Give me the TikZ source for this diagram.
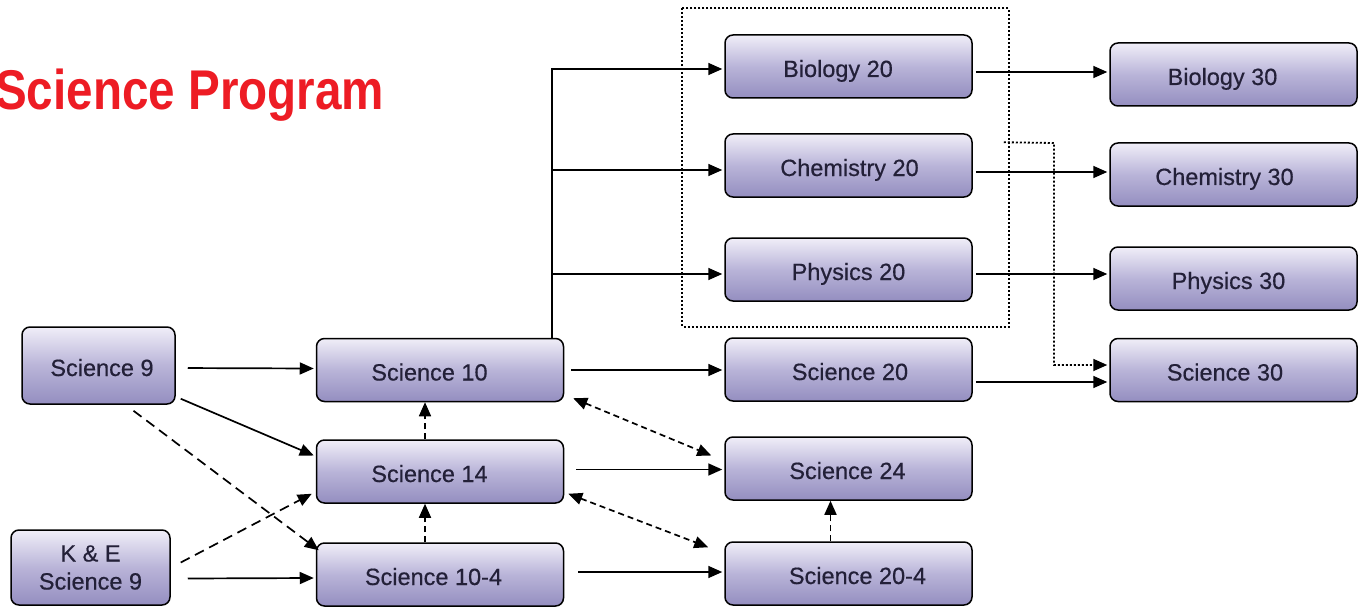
\documentclass[tikz,border=0pt]{standalone}
\usepackage{fontspec}
\setmainfont{Liberation Sans}
\newfontfamily\boxfont{Liberation Sans}[FakeBold=0.5]
\usetikzlibrary{arrows.meta,calc}
\definecolor{titlered}{RGB}{237,28,36}
\definecolor{boxtop}{RGB}{240,238,248}
\definecolor{boxmid}{RGB}{185,180,216}
\definecolor{boxbot}{RGB}{148,142,192}
\definecolor{boxtext}{RGB}{35,32,56}
\tikzset{
  course/.style={draw=black, line width=1.5pt, rounded corners=8pt,
    top color=boxtop, bottom color=boxbot, middle color=boxmid,
    minimum width=247pt, minimum height=63pt, text=boxtext,
    font=\boxfont\fontsize{23.5}{28}\selectfont, inner sep=0pt,
    text height=22pt, text depth=1pt},
  tshift/.style={execute at begin node={\hspace*{#1}}},
  arr/.style={line width=1.7pt, -{Triangle[length=14pt,width=12pt]}},
  longdash/.style={arr, dash pattern=on 10pt off 6pt},
  shortdash/.style={arr, dash pattern=on 6pt off 4pt},
  twodash/.style={shortdash, {Triangle[length=14pt,width=12pt]}-{Triangle[length=14pt,width=12pt]}},
  dotline/.style={line width=1.8pt, dash pattern=on 2pt off 2pt},
  dotarr/.style={dotline, -{Triangle[length=14pt,width=12pt]}}
}
\begin{document}
\begin{tikzpicture}[x=1pt,y=-1pt]
\useasboundingbox (0,0) rectangle (1366,607);
\node[anchor=base west, text=titlered, inner sep=0pt] (title) at (-5,110)
  {\scalebox{0.85}[1]{\fontsize{56}{60}\selectfont\bfseries Science Program}};

\node[course, tshift=7pt, minimum width=153pt, minimum height=77pt] (sc9) at (98.5,365.5) {Science 9};
\node[course, minimum width=159pt, minimum height=75pt, text height=, text depth=, align=center] (ke) at (90.5,567.5) {K \& E\\Science 9};
\node[course, tshift=-21pt] (sc10) at (440,370) {Science 10};
\node[course, tshift=-21pt] (sc14) at (440,471.5) {Science 14};
\node[course, tshift=-13pt] (sc104) at (440,574.5) {Science 10-4};
\node[course, tshift=-21pt] (bio20) at (848.5,66.5) {Biology 20};
\node[course, tshift=2pt] (chem20) at (848.5,165.5) {Chemistry 20};
\node[course] (phys20) at (848.5,269.5) {Physics 20};
\node[course, tshift=3pt] (sc20) at (848.5,369.5) {Science 20};
\node[course, tshift=-2pt] (sc24) at (848.5,468.5) {Science 24};
\node[course, tshift=18pt] (sc204) at (848.5,573.5) {Science 20-4};
\node[course, tshift=-22pt] (bio30) at (1233.5,74.5) {Biology 30};
\node[course, tshift=-18pt] (chem30) at (1233.5,174.5) {Chemistry 30};
\node[course, tshift=-10pt] (phys30) at (1233.5,278.5) {Physics 30};
\node[course, tshift=-17pt] (sc30) at (1233.5,370) {Science 30};

% group box
\draw[dotline] ($(bio20.north west)+(-42,-26)$) rectangle ($(phys20.south east)+(36,25)$);

% left column
\draw[arr, shorten <=12pt] ($(sc9.east)+(0,2.5)$) -- ($(sc10.west)+(-2,-1.5)$);
\draw[arr] ($(sc9.south east)+(5,-6)$) -- ($(sc14.west)+(-2,-16)$);
\draw[longdash] ($(sc9.south)+(35,6)$) -- ($(sc104.north west)+(3,8)$);
\draw[longdash] ($(ke.east)+(10,-5)$) -- ($(sc14.south west)+(-4,-10)$);
\draw[arr] ($(ke.east)+(17,11)$) -- ($(sc104.west)+(-2,3.5)$);
\draw[shortdash] ($(sc14.north)+(-15,0)$) -- ($(sc10.south)+(-15,0)$);
\draw[shortdash] ($(sc104.north)+(-15,0)$) -- ($(sc14.south)+(-15,0)$);

% Science 10 trunk
\coordinate (trunk) at (552,69);
\draw[arr] (sc10.north -| trunk) |- ($(bio20.west)+(-2,2.5)$);
\draw[arr] ($(trunk |- chem20)+(0,4.5)$) -- ($(chem20.west)+(-2,4.5)$);
\draw[arr] ($(trunk |- phys20)+(0,4.5)$) -- ($(phys20.west)+(-2,4.5)$);

% middle
\draw[arr, shorten <=7pt] (sc10.east) -- ($(sc20.west)+(-2,0.5)$);
\draw[twodash] ($(sc10.south east)+(9,-4)$) -- ($(sc24.west)+(-13,-13)$);
\draw[arr] ($(sc14.east)+(12,-2)$) -- ($(sc24.west)+(-2,1)$);
\draw[twodash] ($(sc14.south east)+(4,-10)$) -- ($(sc204.north west)+(-16,6)$);
\draw[arr] ($(sc104.east)+(14,-2.5)$) -- ($(sc204.west)+(-2,-1.5)$);
\draw[shortdash] ($(sc204.north)+(-18,0)$) -- ($(sc24.south)+(-18,0)$);

% right
\draw[arr] ($(bio20.east)+(3,5.5)$) -- ($(bio30.west)+(-2,-2.5)$);
\draw[arr] ($(chem20.east)+(3,6.5)$) -- ($(chem30.west)+(-2,-2.5)$);
\draw[arr] ($(phys20.east)+(3,4.5)$) -- ($(phys30.west)+(-2,-4.5)$);
\draw[arr] ($(sc20.east)+(3,12.5)$) -- ($(sc30.west)+(-2,12)$);
\coordinate (dt) at (1054,143);
\draw[dotarr] ($(chem20.north east)+(31,9)$) -- (dt) |- ($(sc30.west)+(-2,-5)$);
\end{tikzpicture}
\end{document}
